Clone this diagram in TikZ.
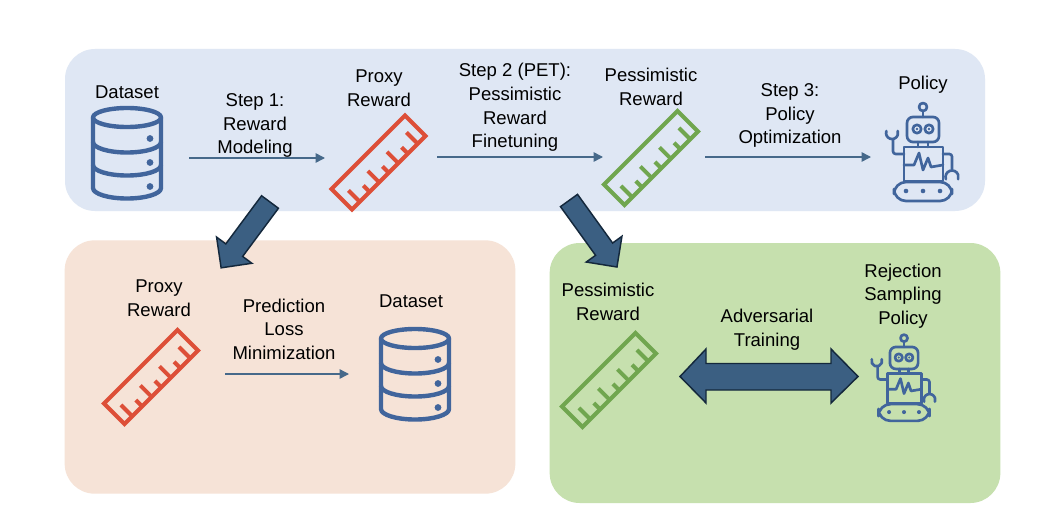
\documentclass[tikz,border=0pt]{standalone}
\usepackage{fontspec}
\setmainfont{Liberation Sans}
\usetikzlibrary{arrows.meta}
\definecolor{panelblue}{HTML}{DFE7F4}
\definecolor{panelpeach}{HTML}{F6E3D7}
\definecolor{panelgreen}{HTML}{C6E0AE}
\definecolor{iconblue}{HTML}{41659C}
\definecolor{rulerred}{HTML}{DD4F38}
\definecolor{rulergreen}{HTML}{70A64F}
\definecolor{arrowblue}{HTML}{46698A}
\definecolor{bigfill}{HTML}{3B5F82}
\definecolor{bigline}{HTML}{14283C}
\tikzset{
  x=0.75pt,y=-0.75pt,
  panel/.style={draw=none,rounded corners=22.5pt},
  lbl/.style={align=center,font=\fontsize{13.9}{17.7}\selectfont,text=black,inner sep=0pt},
  flow/.style={draw=arrowblue,line width=1.1pt,-{Triangle[length=7pt,width=7pt]}},
  bigarrow/.style={draw=bigline,fill=bigfill,line width=1.1pt,line join=miter},
  pics/dbase/.style={code={
    \begin{scope}[draw=iconblue,line width=3.3pt,line join=round]
      \draw (0,-41.5) ellipse [x radius=34,y radius=9.5];
      \draw (-34,-41.5) -- (-34,29) arc[start angle=180,end angle=0,x radius=34,y radius=10.5] -- (34,-41.5);
      \draw (-34,-17) arc[start angle=180,end angle=0,x radius=34,y radius=10.5];
      \draw (-34,6) arc[start angle=180,end angle=0,x radius=34,y radius=10.5];
      \fill[iconblue] (23,-20.5) circle (3.4) (23,3.5) circle (3.4) (23,27.5) circle (3.4);
    \end{scope}
  }},
  pics/rulerp/.style={code={
    \begin{scope}[rotate=45,draw=#1,line width=3pt,line join=miter]
      \draw (-52,-14.5) rectangle (52,14.5);
      \foreach \t/\h in {-41/16,-27/9,-13.5/16,0/9,13.5/16,27/9,41/16}
        \draw (\t,14.5) -- (\t,14.5-\h);
    \end{scope}
  }},
  pics/robot/.style={code={
    \begin{scope}[scale=#1,draw=iconblue,line width=2pt,line cap=round,line join=round]
      \draw (0,-43) circle (4);
      \draw (0,-39) -- (0,-33);
      \draw[rounded corners=4.5pt] (-16,-33) rectangle (16,-8);
      \draw (-6,-21) circle (4.2) (6,-21) circle (4.2);
      \fill[iconblue] (-6,-21) circle (1.3) (6,-21) circle (1.3);
      \draw (-5,-8) -- (-5,-3) (5,-8) -- (5,-3);
      \draw (-19,-3) rectangle (20,31);
      \draw (-19,15) -- (-9,15) -- (-4,3) -- (0,20) -- (5,8) -- (8,17) -- (20,15);
      \draw[rounded corners=2pt] (-19,4) -- (-30,4) -- (-30,-10);
      \draw (-36.6,-19) arc[start angle=200,end angle=-20,radius=6];
      \draw[rounded corners=2pt] (20,4) -- (29,4) -- (29,19);
      \draw (22.9,29.2) arc[start angle=160,end angle=380,radius=6.5];
      \draw[rounded corners=9pt] (-29,32) rectangle (29,51);
      \fill[iconblue] (-17,41) circle (2.3) (0,41) circle (2.3) (17,41) circle (2.3);
    \end{scope}
  }}
}
\begin{document}
\begin{tikzpicture}
\useasboundingbox (0,0) rectangle (1044,528);
\fill[white] (0,0) rectangle (1044,528);
% panels
\node[panel,fill=panelblue,minimum width=690pt,minimum height=121.5pt] (pA) at (525,130) {};
\node[panel,fill=panelpeach,minimum width=338pt,minimum height=190pt] (pB) at (290,367) {};
\node[panel,fill=panelgreen,minimum width=338pt,minimum height=195pt] (pC) at (775,373) {};
% top row
\coordinate (db1) at (127,159);
\pic at (db1) {dbase};
\node[lbl] (tDataset1) at (127,92) {Dataset};
\node[lbl] (tStep1) at (255,125.5) {Step 1:\\Reward\\Modeling};
\coordinate (r1) at (378.5,162.5);
\pic at (r1) {rulerp=rulerred};
\node[lbl] (tProxy1) at (379,88) {Proxy\\Reward};
\node[lbl] (tStep2) at (515,107.5) {Step 2 (PET):\\Pessimistic\\Reward\\Finetuning};
\coordinate (r2) at (651,158);
\pic at (r2) {rulerp=rulergreen};
\node[lbl] (tPess1) at (651,87) {Pessimistic\\Reward};
\node[lbl] (tStep3) at (790,115.5) {Step 3:\\Policy\\Optimization};
\coordinate (rb1) at (923,150);
\pic at (rb1) {robot=1};
\node[lbl] (tPolicy) at (923,85) {Policy};
\coordinate (a1s) at (189,158); \coordinate (a1e) at (325,158);
\coordinate (a2s) at (437,157); \coordinate (a2e) at (603,157);
\coordinate (a3s) at (705,157); \coordinate (a3e) at (871,157);
\draw[flow] (a1s) -- (a1e);
\draw[flow] (a2s) -- (a2e);
\draw[flow] (a3s) -- (a3e);
% big arrows
\begin{scope}[shift={(270,202)},rotate=233.4]
  \draw[bigarrow] (0,-10.5) -- (60,-10.5) -- (60,-22) -- (82,0) -- (60,22) -- (60,10.5) -- (0,10.5) -- cycle;
\end{scope}
\begin{scope}[shift={(569,200.5)},rotate=-54.2]
  \draw[bigarrow] (0,-10.5) -- (60,-10.5) -- (60,-22) -- (82,0) -- (60,22) -- (60,10.5) -- (0,10.5) -- cycle;
\end{scope}
% lower left
\coordinate (r3) at (151,377);
\pic at (r3) {rulerp=rulerred};
\node[lbl] (tProxy2) at (159,298.5) {Proxy\\Reward};
\node[lbl] (tPred) at (284,329) {Prediction\\Loss\\Minimization};
\coordinate (db2) at (415,380);
\pic at (db2) {dbase};
\node[lbl] (tDataset2) at (411,301.5) {Dataset};
\coordinate (a4s) at (225,374); \coordinate (a4e) at (349,374);
\draw[flow] (a4s) -- (a4e);
% lower right
\coordinate (r4) at (609,380);
\pic at (r4) {rulerp=rulergreen};
\node[lbl] (tPess2) at (608,302) {Pessimistic\\Reward};
\node[lbl] (tAdv) at (767,330) {Adversarial\\Training};
\node[lbl] (tRej) at (903,296) {Rejection\\Sampling\\Policy};
\coordinate (rb2) at (904,376);
\pic at (rb2) {robot=0.88};
\draw[bigarrow] (680,376.5) -- (706,349) -- (706,363.5) -- (831,363.5) -- (831,349) -- (858,376.5) -- (831,403) -- (831,390) -- (706,390) -- (706,403) -- cycle;
\end{tikzpicture}
\end{document}
